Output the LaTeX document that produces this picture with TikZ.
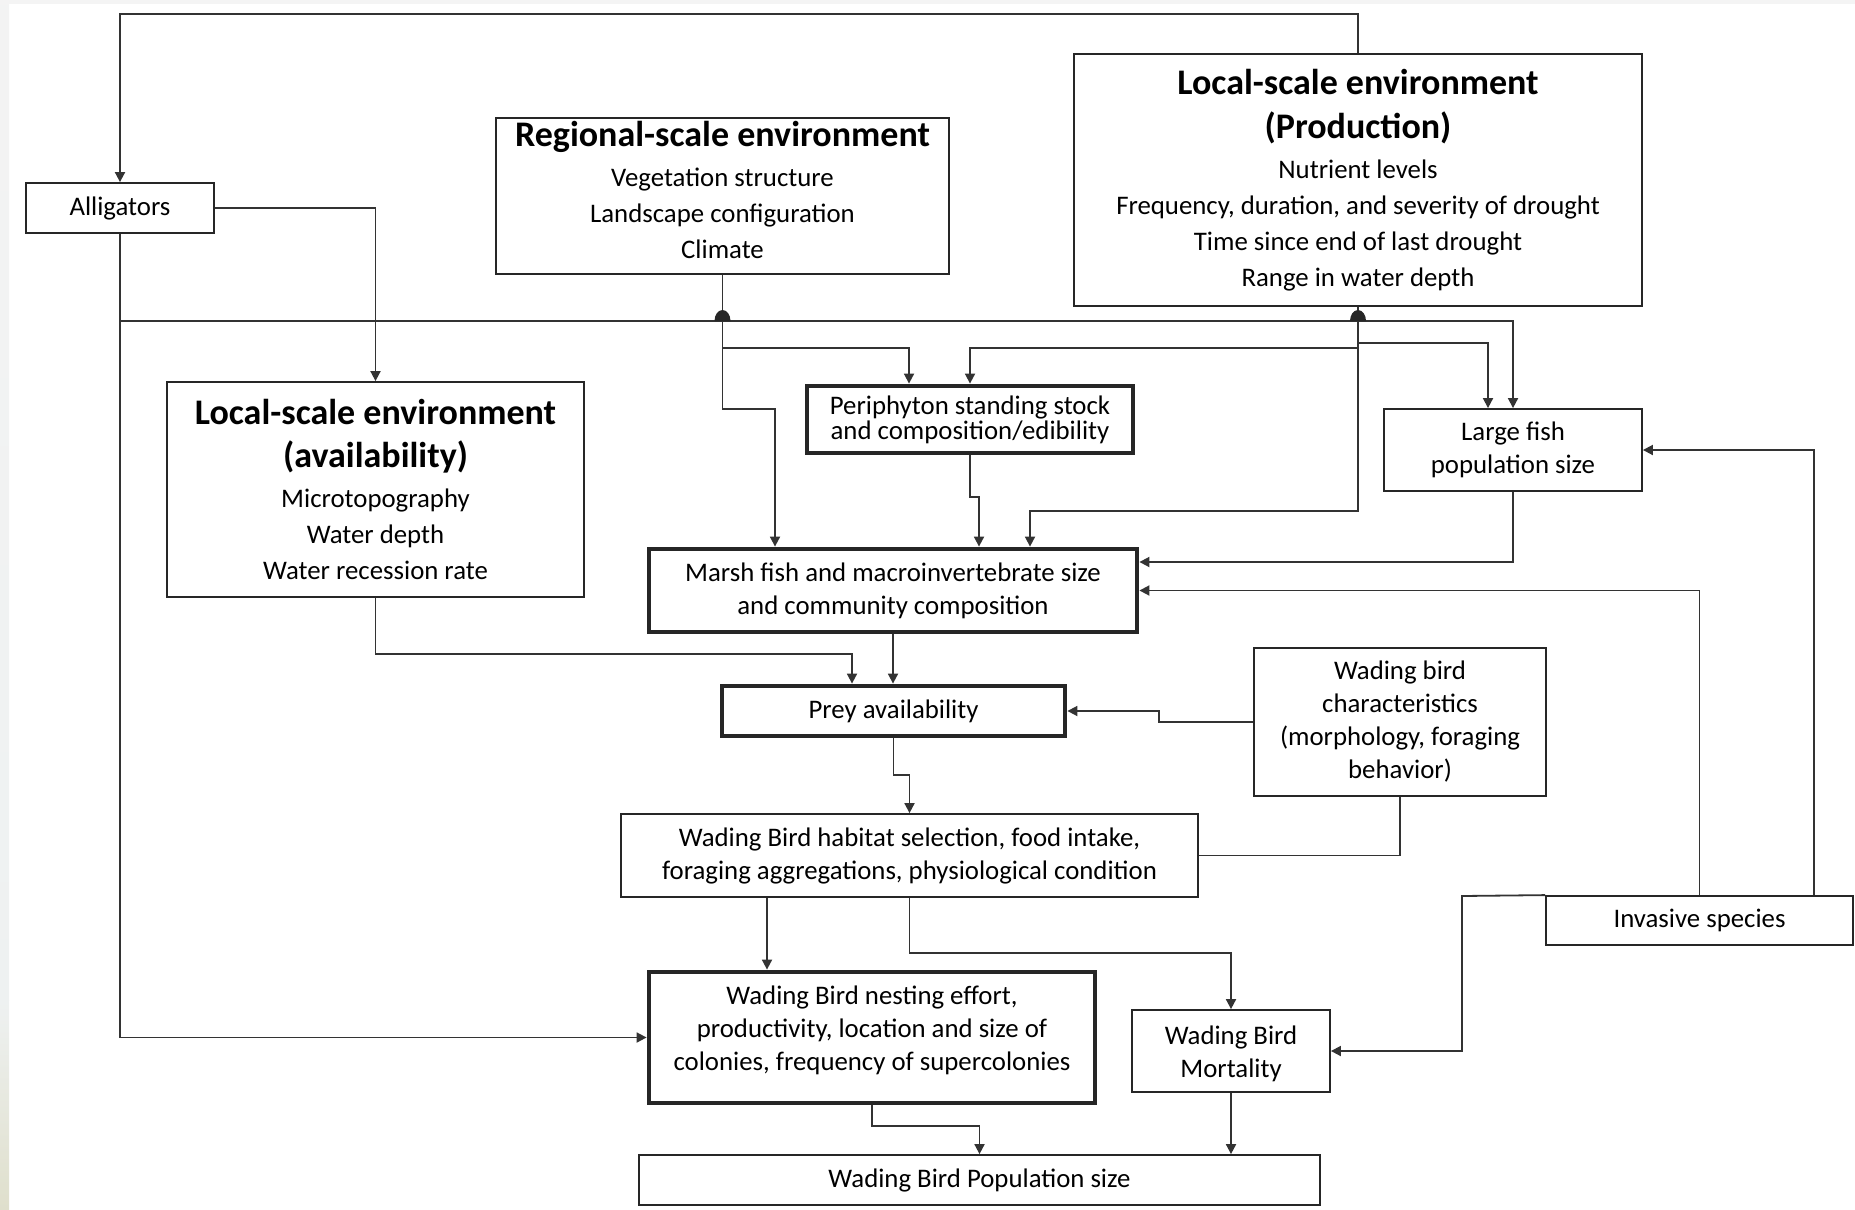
\documentclass[tikz,border=0pt]{standalone}
\usepackage{fontspec}
\setmainfont{Carlito}
\usetikzlibrary{arrows.meta}

% text sizes used in the boxes
\newcommand{\ttl}{\bfseries\fontsize{18}{18}\selectfont}
% invisible strut that deepens the last line of a box
\newcommand{\lowstrut}[1]{\rule[-#1]{0pt}{#1}}

\begin{document}
\begin{tikzpicture}[x=0.5pt, y=-0.5pt,
  box/.style={draw=black!85, line width=0.9pt, fill=white, inner sep=0pt,
              align=center, font=\fontsize{13.4}{16.5}\selectfont},
  heavybox/.style={box, line width=2.4pt},
  bigbox/.style={box, font=\fontsize{13.4}{18}\selectfont},
  conn/.style={draw=black!80, line width=0.9pt},
  arr/.style={conn, -{Triangle[length=5pt,width=5pt]}},
]
\useasboundingbox (0,0) rectangle (1855,1209);

% page edge strips
\fill[gray!9] (0,0) rectangle (1855,4);
\shade[top color=gray!9, bottom color=cyan!10!gray!12] (0,0) rectangle (9,1000);
\shade[top color=cyan!10!gray!12, bottom color=olive!30!gray!25] (0,1000) rectangle (9,1209);

% ---------- boxes ----------
\node[box, minimum width=94pt, minimum height=25pt] (allig) at (120,208) {Alligators};

\node[bigbox, minimum width=226.5pt, minimum height=78pt] (regional) at (722.5,196)
  {{\ttl Regional-scale environment}\\[2pt]
   Vegetation structure\\ Landscape configuration\\ Climate\lowstrut{6pt}};

\node[bigbox, minimum width=284pt, minimum height=126pt] (prod) at (1358,180)
  {{\ttl Local-scale environment}\\[4pt]
   {\ttl (Production)}\\[2.2pt]
   Nutrient levels\\ Frequency, duration, and severity of drought\\
   Time since end of last drought\\ Range in water depth};

\node[bigbox, minimum width=208.5pt, minimum height=107.5pt] (avail) at (375.5,489.5)
  {{\ttl Local-scale environment}\\[3.6pt]
   {\ttl (availability)}\\[2.2pt]
   Microtopography\\ Water depth\\ Water recession rate};

\node[heavybox, font=\fontsize{13.4}{10.2}\selectfont, minimum width=163pt, minimum height=33.5pt]
  (peri) at (970,419.5) {Periphyton standing stock\\ and composition/edibility};

\node[box, minimum width=129pt, minimum height=41pt] (lfish) at (1513,450)
  {Large fish\\ population size};

\node[heavybox, minimum width=244pt, minimum height=41.5pt] (marsh) at (893,590.5)
  {Marsh fish and macroinvertebrate size\\ and community composition};

\node[heavybox, minimum width=171.5pt, minimum height=25pt] (prey) at (893.5,711)
  {Prey availability};

\node[box, minimum width=146pt, minimum height=74pt] (chars) at (1400,722)
  {Wading bird\\ characteristics\\ (morphology, foraging\\ behavior)};

\node[box, minimum width=288.5pt, minimum height=41.5pt] (hab) at (909.5,855.5)
  {Wading Bird habitat selection, food intake,\\ foraging aggregations, physiological condition};

\node[box, minimum width=153.5pt, minimum height=24.5pt] (inv) at (1699.5,920.5)
  {Invasive species};

\node[heavybox, minimum width=223pt, minimum height=65.5pt] (nest) at (872,1037.5)
  {Wading Bird nesting effort,\\ productivity, location and size of\\
   colonies, frequency of supercolonies\lowstrut{9pt}};

\node[box, minimum width=99pt, minimum height=41pt] (mort) at (1231,1051)
  {\rule{0pt}{12pt}Wading Bird\\ Mortality};

\node[box, minimum width=340.5pt, minimum height=25pt] (pop) at (979.5,1180)
  {Wading Bird Population size};

% ---------- connectors ----------
% production feeds back to alligators over the top
\draw[arr] (prod.north) -- (1358,14) -| (allig.north);
\draw[arr] (allig.east) -| (avail.north);
\draw[arr] (allig.south) |- (nest.west);
\draw[arr] (allig.south |- 0,321) -| (lfish.north);

% regional-scale environment
\draw[arr] (regional.south) -- (722.5,409) -| (marsh.north -| 775,0);
\draw[arr] (regional.south |- 0,348) -| (peri.north -| 909,0);

% local-scale environment (production)
\draw[arr] (prod.south) -- (1358,511) -| (marsh.north -| 1030,0);
\draw[arr] (prod.south |- 0,348) -| (peri.north);
\draw[arr] (prod.south |- 0,343) -| (lfish.north -| 1488,0);

% periphyton and large fish to marsh fish
\draw[arr] (peri.south) -- (970,497) -- (979,497) -- (marsh.north -| 979,0);
\draw[arr] (lfish.south) |- (marsh.east |- 0,562);

% invasive species
\draw[arr] (inv.north) |- (marsh.east);
\draw[arr] (inv.north -| 1814,0) |- (lfish.east);
\draw[arr] (inv.north west) -- (1462,896) |- (mort.east);

% prey availability
\draw[arr] (marsh.south) -- (marsh.south |- prey.north);
\draw[arr] (avail.south) -- (375.5,654) -| (prey.north -| 852,0);
\draw[arr] (chars.west) -- (1159,722) |- (prey.east);

% wading bird responses
\draw[arr] (prey.south) -- (893.5,775) -| (hab.north);
\draw[conn] (chars.south) |- (hab.east);
\draw[arr] (hab.south -| 767,0) -- (nest.north -| 767,0);
\draw[arr] (hab.south) -- (909.5,953) -| (mort.north);
\draw[arr] (nest.south) -- (872,1126) -| (pop.north);
\draw[arr] (mort.south) -- (pop.north -| mort.south);

% bumps where the vertical feeds cross the alligator line
\fill[black!85] (714.5,321) arc[start angle=180, end angle=0, x radius=4pt, y radius=5.5pt] -- cycle;
\fill[black!85] (1350,321) arc[start angle=180, end angle=0, x radius=4pt, y radius=5.5pt] -- cycle;

\end{tikzpicture}
\end{document}
